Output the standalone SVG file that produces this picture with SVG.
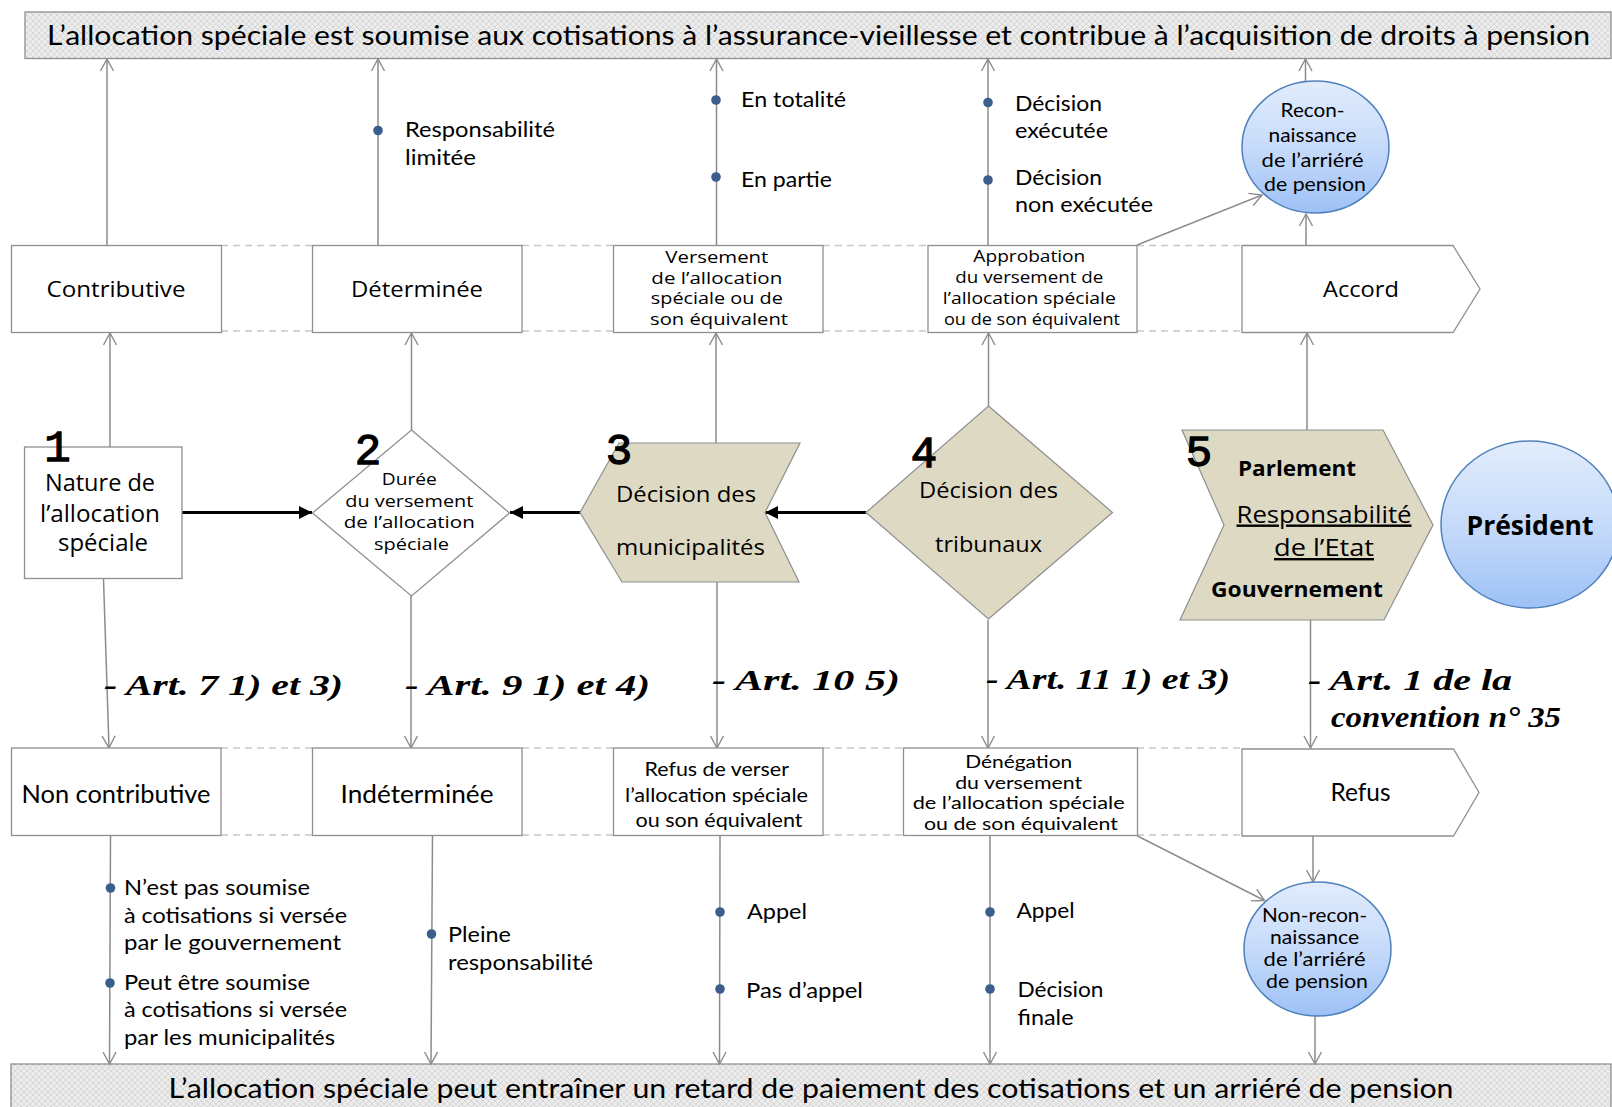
<svg xmlns="http://www.w3.org/2000/svg" width="1612" height="1107" viewBox="0 0 1612 1107">
<defs>
<style>
.os{font-family:"Open Sans","Liberation Sans",sans-serif;fill:#000}
.la{font-family:Lato,"Open Sans","Liberation Sans",sans-serif;fill:#000}
.art{font-family:"Liberation Serif","DejaVu Serif",serif;font-weight:bold;font-style:italic;font-size:29px;fill:#000}
.num{font-family:"Liberation Mono","DejaVu Sans Mono",monospace;font-size:44px;fill:#000;stroke:#000;stroke-width:1.3}
.box{fill:#fff;stroke:#8f8f8f;stroke-width:1.3}
.beige{fill:#DDD9C3;stroke:#8f8f8f;stroke-width:1.2}
.circ{fill:url(#cg);stroke:#4f81bd;stroke-width:1.5}
.ban{fill:url(#hatch);stroke:#8f8f8f;stroke-width:1.3}
.ln{fill:none;stroke:#8c8c8c;stroke-width:1.5;marker-end:url(#oa)}
.thick{fill:none;stroke:#000;stroke-width:3;marker-end:url(#fa)}
.dash{fill:none;stroke:#c8c8c8;stroke-width:1.5;stroke-dasharray:7 5}
.dot{fill:#3b5e8c}
</style>
<pattern id="hatch" width="6" height="6" patternUnits="userSpaceOnUse">
<rect width="6" height="6" fill="#ececec"/>
<path d="M0,0 L6,6 M6,0 L0,6" stroke="#d2d2d2" stroke-width="0.8"/>
</pattern>
<linearGradient id="cg" x1="0" y1="0" x2="0" y2="1">
<stop offset="0" stop-color="#e2ecfc"/>
<stop offset="0.5" stop-color="#c6dbfa"/>
<stop offset="1" stop-color="#9dc1f6"/>
</linearGradient>
<marker id="oa" viewBox="-13 -8 15 16" markerWidth="15" markerHeight="16" refX="0" refY="0" orient="auto" markerUnits="userSpaceOnUse">
<path d="M-12,-6.5 L0,0 L-12,6.5" fill="none" stroke="#8c8c8c" stroke-width="1.4"/>
</marker>
<marker id="fa" viewBox="-14 -8 16 16" markerWidth="16" markerHeight="16" refX="0" refY="0" orient="auto" markerUnits="userSpaceOnUse">
<path d="M-13,-6.5 L0,0 L-13,6.5 z" fill="#000"/>
</marker>
</defs>

<rect width="1612" height="1107" fill="#fff"/>

<!-- banners -->
<g id="banner-top">
<rect class="ban" x="25" y="12" width="1586" height="46.5"/>
<text class="la" x="818.5" y="45" font-size="27" text-anchor="middle" textLength="1543" lengthAdjust="spacingAndGlyphs">L’allocation spéciale est soumise aux cotisations à l’assurance-vieillesse et contribue à l’acquisition de droits à pension</text>
</g>
<g id="banner-bottom">
<rect class="ban" x="11" y="1064" width="1600" height="50"/>
<text class="la" x="811" y="1098" font-size="27" text-anchor="middle" textLength="1285" lengthAdjust="spacingAndGlyphs">L’allocation spéciale peut entraîner un retard de paiement des cotisations et un arriéré de pension</text>
</g>

<!-- dashed lane lines -->
<g id="lanes">
<path class="dash" d="M221,245.5 H312 M522,245.5 H613 M823,245.5 H928 M1137,245.5 H1242"/>
<path class="dash" d="M221,331 H312 M522,331 H613 M823,331 H928 M1137,331 H1242"/>
<path class="dash" d="M221,748 H312 M522,748 H613 M823,748 H903 M1137,748 H1242"/>
<path class="dash" d="M221,835 H312 M522,835 H613 M823,835 H903 M1137,835 H1242"/>
</g>

<!-- connectors -->
<g id="connectors">
<path class="ln" d="M107,245 L107,59"/>
<path class="ln" d="M110,447 L110,333"/>
<path class="ln" d="M103.5,579 L109,748"/>
<path class="ln" d="M110.5,836 L109.5,1064"/>
<path class="ln" d="M378,245 L378,59"/>
<path class="ln" d="M411.5,430 L411.5,333"/>
<path class="ln" d="M411,596 L411,748"/>
<path class="ln" d="M432.5,836 L431,1064"/>
<path class="ln" d="M716.5,245 L716.5,59"/>
<path class="ln" d="M716,443 L716,333"/>
<path class="ln" d="M717,582 L717,748"/>
<path class="ln" d="M720,836 L719.5,1064"/>
<path class="ln" d="M988,245 L988,59"/>
<path class="ln" d="M988.5,406 L988.5,333"/>
<path class="ln" d="M988,620 L988,748"/>
<path class="ln" d="M990,836 L990,1064"/>
<path class="ln" d="M1137,245 L1262,195"/>
<path class="ln" d="M1306,245 L1306,214"/>
<path class="ln" d="M1305.5,82 L1305.5,59"/>
<path class="ln" d="M1307,430 L1307,333"/>
<path class="ln" d="M1310.5,620 L1310.5,748"/>
<path class="ln" d="M1313,836 L1313,882"/>
<path class="ln" d="M1137.5,836 L1264.5,900.5"/>
<path class="ln" d="M1315,1016 L1315,1064"/>
<path class="thick" d="M182,512.5 L312,512.5"/>
<path class="thick" d="M580,512.5 L510,512.5"/>
<path class="thick" d="M866,512.5 L765,512.5"/>
</g>

<!-- bullets and bullet texts -->
<g id="bullets">
<circle class="dot" cx="378" cy="130.5" r="4.8"/>
<text class="la" x="405" y="137" font-size="22" textLength="150" lengthAdjust="spacingAndGlyphs">Responsabilité</text>
<text class="la" x="405" y="165" font-size="22" textLength="71" lengthAdjust="spacingAndGlyphs">limitée</text>
<circle class="dot" cx="716" cy="100" r="4.8"/>
<circle class="dot" cx="716" cy="177" r="4.8"/>
<text class="la" x="741" y="107" font-size="22" textLength="105" lengthAdjust="spacingAndGlyphs">En totalité</text>
<text class="la" x="741" y="187" font-size="22" textLength="91" lengthAdjust="spacingAndGlyphs">En partie</text>
<circle class="dot" cx="988" cy="102.5" r="4.8"/>
<circle class="dot" cx="988" cy="180" r="4.8"/>
<text class="la" x="1015" y="110.5" font-size="22" textLength="87" lengthAdjust="spacingAndGlyphs">Décision</text>
<text class="la" x="1015" y="137.5" font-size="22" textLength="93" lengthAdjust="spacingAndGlyphs">exécutée</text>
<text class="la" x="1015" y="185" font-size="22" textLength="87" lengthAdjust="spacingAndGlyphs">Décision</text>
<text class="la" x="1015" y="212" font-size="22" textLength="138" lengthAdjust="spacingAndGlyphs">non exécutée</text>
<circle class="dot" cx="110.5" cy="888" r="4.8"/>
<circle class="dot" cx="110" cy="983" r="4.8"/>
<text class="la" x="124" y="895" font-size="22" textLength="186" lengthAdjust="spacingAndGlyphs">N’est pas soumise</text>
<text class="la" x="124" y="923" font-size="22" textLength="223" lengthAdjust="spacingAndGlyphs">à cotisations si versée</text>
<text class="la" x="124" y="950" font-size="22" textLength="217" lengthAdjust="spacingAndGlyphs">par le gouvernement</text>
<text class="la" x="124" y="990" font-size="22" textLength="186" lengthAdjust="spacingAndGlyphs">Peut être soumise</text>
<text class="la" x="124" y="1017" font-size="22" textLength="223" lengthAdjust="spacingAndGlyphs">à cotisations si versée</text>
<text class="la" x="124" y="1045" font-size="22" textLength="211" lengthAdjust="spacingAndGlyphs">par les municipalités</text>
<circle class="dot" cx="431.5" cy="934" r="4.8"/>
<text class="la" x="448" y="942" font-size="22" textLength="63" lengthAdjust="spacingAndGlyphs">Pleine</text>
<text class="la" x="448" y="970" font-size="22" textLength="145" lengthAdjust="spacingAndGlyphs">responsabilité</text>
<circle class="dot" cx="720" cy="912" r="4.8"/>
<circle class="dot" cx="720" cy="989" r="4.8"/>
<text class="la" x="747" y="919" font-size="22" textLength="60" lengthAdjust="spacingAndGlyphs">Appel</text>
<text class="la" x="746" y="998" font-size="22" textLength="117" lengthAdjust="spacingAndGlyphs">Pas d’appel</text>
<circle class="dot" cx="990" cy="912" r="4.8"/>
<circle class="dot" cx="990" cy="989" r="4.8"/>
<text class="la" x="1016.5" y="918" font-size="22" textLength="58" lengthAdjust="spacingAndGlyphs">Appel</text>
<text class="la" x="1017.5" y="997" font-size="22" textLength="86" lengthAdjust="spacingAndGlyphs">Décision</text>
<text class="la" x="1017.5" y="1025" font-size="22" textLength="56" lengthAdjust="spacingAndGlyphs">finale</text>
</g>

<!-- article labels -->
<g id="articles">
<text class="art" x="104" y="695" textLength="239" lengthAdjust="spacingAndGlyphs">- Art. 7 1) et 3)</text>
<text class="art" x="405" y="695" textLength="245" lengthAdjust="spacingAndGlyphs">- Art. 9 1) et 4)</text>
<text class="art" x="712" y="690" textLength="188" lengthAdjust="spacingAndGlyphs">- Art. 10 5)</text>
<text class="art" x="986" y="689" textLength="244" lengthAdjust="spacingAndGlyphs">- Art. 11 1) et 3)</text>
<text class="art" x="1308" y="690" textLength="204" lengthAdjust="spacingAndGlyphs">- Art. 1 de la</text>
<text class="art" x="1331" y="727" textLength="230" lengthAdjust="spacingAndGlyphs">convention n° 35</text>
</g>

<!-- row 1 boxes -->
<g id="contributive">
<rect class="box" x="11.5" y="245.5" width="210" height="87"/>
<text class="os" x="116" y="297" font-size="22" text-anchor="middle" textLength="139" lengthAdjust="spacingAndGlyphs">Contributive</text>
</g>
<g id="determinee">
<rect class="box" x="312.5" y="245.5" width="209.5" height="87"/>
<text class="os" x="417" y="297" font-size="22" text-anchor="middle" textLength="132" lengthAdjust="spacingAndGlyphs">Déterminée</text>
</g>
<g id="versement">
<rect class="box" x="613.5" y="245.5" width="209.5" height="87"/>
<text class="os" font-size="16.5" text-anchor="middle">
<tspan x="719" y="263" textLength="103" lengthAdjust="spacingAndGlyphs">Versement</tspan>
<tspan x="719" y="283.5" textLength="131" lengthAdjust="spacingAndGlyphs">de l’allocation</tspan>
<tspan x="719" y="304" textLength="132" lengthAdjust="spacingAndGlyphs">spéciale ou de</tspan>
<tspan x="719" y="324.5" textLength="138" lengthAdjust="spacingAndGlyphs">son équivalent</tspan>
</text>
</g>
<g id="approbation">
<rect class="box" x="928" y="245.5" width="209" height="87"/>
<text class="os" font-size="16.5" text-anchor="middle">
<tspan x="1031.5" y="262" textLength="112" lengthAdjust="spacingAndGlyphs">Approbation</tspan>
<tspan x="1031.5" y="283" textLength="148" lengthAdjust="spacingAndGlyphs">du versement de</tspan>
<tspan x="1031.5" y="304" textLength="173" lengthAdjust="spacingAndGlyphs">l’allocation spéciale</tspan>
<tspan x="1032" y="325" textLength="176" lengthAdjust="spacingAndGlyphs">ou de son équivalent</tspan>
</text>
</g>
<g id="accord">
<path class="box" d="M1242,245.5 H1453 L1480,289 L1453,332.5 H1242 Z"/>
<text class="os" x="1361" y="297" font-size="22" text-anchor="middle" textLength="76" lengthAdjust="spacingAndGlyphs">Accord</text>
</g>

<!-- circles -->
<g id="reconnaissance">
<ellipse class="circ" cx="1315.5" cy="147" rx="73.5" ry="66"/>
<text class="la" font-size="19" text-anchor="middle">
<tspan x="1315" y="117" textLength="64" lengthAdjust="spacingAndGlyphs">Recon-</tspan>
<tspan x="1315" y="141.5" textLength="88" lengthAdjust="spacingAndGlyphs">naissance</tspan>
<tspan x="1315" y="166.5" textLength="102" lengthAdjust="spacingAndGlyphs">de l’arriéré</tspan>
<tspan x="1315" y="190.5" textLength="102" lengthAdjust="spacingAndGlyphs">de pension</tspan>
</text>
</g>

<!-- middle row -->
<g id="nature">
<rect class="box" x="24.5" y="447" width="157.5" height="131.5"/>
<text class="os" font-size="23" text-anchor="middle">
<tspan x="103" y="491" textLength="110" lengthAdjust="spacingAndGlyphs">Nature de</tspan>
<tspan x="103" y="521.5" textLength="120" lengthAdjust="spacingAndGlyphs">l’allocation</tspan>
<tspan x="103" y="551" textLength="90" lengthAdjust="spacingAndGlyphs">spéciale</tspan>
</text>
<text class="num" x="57.5" y="461" font-size="42" text-anchor="middle">1</text>
</g>
<g id="duree">
<path class="box" d="M411.5,430 L509.5,513 L411.5,596 L312.5,513 Z"/>
<text class="os" font-size="17" text-anchor="middle">
<tspan x="411.5" y="485" textLength="55" lengthAdjust="spacingAndGlyphs">Durée</tspan>
<tspan x="411.5" y="506.5" textLength="128" lengthAdjust="spacingAndGlyphs">du versement</tspan>
<tspan x="411.5" y="528" textLength="131" lengthAdjust="spacingAndGlyphs">de l’allocation</tspan>
<tspan x="411.5" y="550" textLength="75" lengthAdjust="spacingAndGlyphs">spéciale</tspan>
</text>
<text class="num" x="368" y="464" text-anchor="middle">2</text>
</g>
<g id="municipalites">
<path class="beige" d="M619,443 H800 L765,512.5 L799,582 H622 L580,512.5 Z"/>
<text class="os" x="616" y="501.5" font-size="22" textLength="140" lengthAdjust="spacingAndGlyphs">Décision des</text>
<text class="os" x="616" y="555" font-size="22" textLength="149" lengthAdjust="spacingAndGlyphs">municipalités</text>
<text class="num" x="619" y="464" text-anchor="middle">3</text>
</g>
<g id="tribunaux">
<path class="beige" d="M988.5,406 L1112.5,512.5 L988.5,619 L866,512.5 Z"/>
<text class="os" x="988.5" y="498" font-size="22" text-anchor="middle" textLength="139" lengthAdjust="spacingAndGlyphs">Décision des</text>
<text class="os" x="988.5" y="551.5" font-size="22" text-anchor="middle" textLength="107" lengthAdjust="spacingAndGlyphs">tribunaux</text>
<text class="num" x="924" y="467" text-anchor="middle">4</text>
</g>
<g id="etat">
<path class="beige" d="M1182,430 H1383 L1433,525 L1384,620 H1180 L1224,525 Z"/>
<text class="os" x="1238" y="476" font-size="20.5" font-weight="bold" textLength="118" lengthAdjust="spacingAndGlyphs">Parlement</text>
<text class="os" x="1324" y="522.5" font-size="24" text-anchor="middle" text-decoration="underline" textLength="175" lengthAdjust="spacingAndGlyphs">Responsabilité</text>
<text class="os" x="1324" y="556" font-size="24" text-anchor="middle" text-decoration="underline" textLength="100" lengthAdjust="spacingAndGlyphs">de l’Etat</text>
<text class="os" x="1211" y="597" font-size="20.5" font-weight="bold" textLength="172" lengthAdjust="spacingAndGlyphs">Gouvernement</text>
<text class="num" x="1199" y="466" text-anchor="middle">5</text>
</g>
<g id="president">
<ellipse class="circ" cx="1530" cy="524.5" rx="89" ry="83.5"/>
<text class="os" x="1530" y="535" font-size="26" font-weight="bold" text-anchor="middle" textLength="127" lengthAdjust="spacingAndGlyphs">Président</text>
</g>

<!-- row 2 boxes -->
<g id="non-contributive">
<rect class="box" x="11.5" y="748" width="209.5" height="87.5"/>
<text class="la" x="116" y="803" font-size="25" text-anchor="middle" textLength="189" lengthAdjust="spacingAndGlyphs">Non contributive</text>
</g>
<g id="indeterminee">
<rect class="box" x="312.5" y="748" width="209.5" height="87.5"/>
<text class="la" x="417" y="803" font-size="25" text-anchor="middle" textLength="153" lengthAdjust="spacingAndGlyphs">Indéterminée</text>
</g>
<g id="refus-verser">
<rect class="box" x="613.5" y="748" width="209.5" height="87.5"/>
<text class="la" font-size="19.5" text-anchor="middle">
<tspan x="719" y="776" textLength="144" lengthAdjust="spacingAndGlyphs">Refus de verser</tspan>
<tspan x="719" y="801.5" textLength="183" lengthAdjust="spacingAndGlyphs">l’allocation spéciale</tspan>
<tspan x="719" y="827" textLength="167" lengthAdjust="spacingAndGlyphs">ou son équivalent</tspan>
</text>
</g>
<g id="denegation">
<rect class="box" x="903.5" y="748" width="234" height="87.5"/>
<text class="la" font-size="18" text-anchor="middle">
<tspan x="1021" y="768" textLength="107" lengthAdjust="spacingAndGlyphs">Dénégation</tspan>
<tspan x="1021" y="788.5" textLength="127" lengthAdjust="spacingAndGlyphs">du versement</tspan>
<tspan x="1021" y="809" textLength="212" lengthAdjust="spacingAndGlyphs">de l’allocation spéciale</tspan>
<tspan x="1021" y="829.5" textLength="194" lengthAdjust="spacingAndGlyphs">ou de son équivalent</tspan>
</text>
</g>
<g id="refus">
<path class="box" d="M1242,749 H1453.5 L1479,792.5 L1453.5,836 H1242 Z"/>
<text class="la" x="1360.5" y="800.5" font-size="25" text-anchor="middle" textLength="60" lengthAdjust="spacingAndGlyphs">Refus</text>
</g>
<g id="non-reconnaissance">
<ellipse class="circ" cx="1317.5" cy="949" rx="73.5" ry="67"/>
<text class="la" font-size="19" text-anchor="middle">
<tspan x="1317" y="921.5" textLength="105" lengthAdjust="spacingAndGlyphs">Non-recon-</tspan>
<tspan x="1317" y="943.5" textLength="89" lengthAdjust="spacingAndGlyphs">naissance</tspan>
<tspan x="1317" y="966" textLength="102" lengthAdjust="spacingAndGlyphs">de l’arriéré</tspan>
<tspan x="1317" y="988" textLength="102" lengthAdjust="spacingAndGlyphs">de pension</tspan>
</text>
</g>
</svg>
